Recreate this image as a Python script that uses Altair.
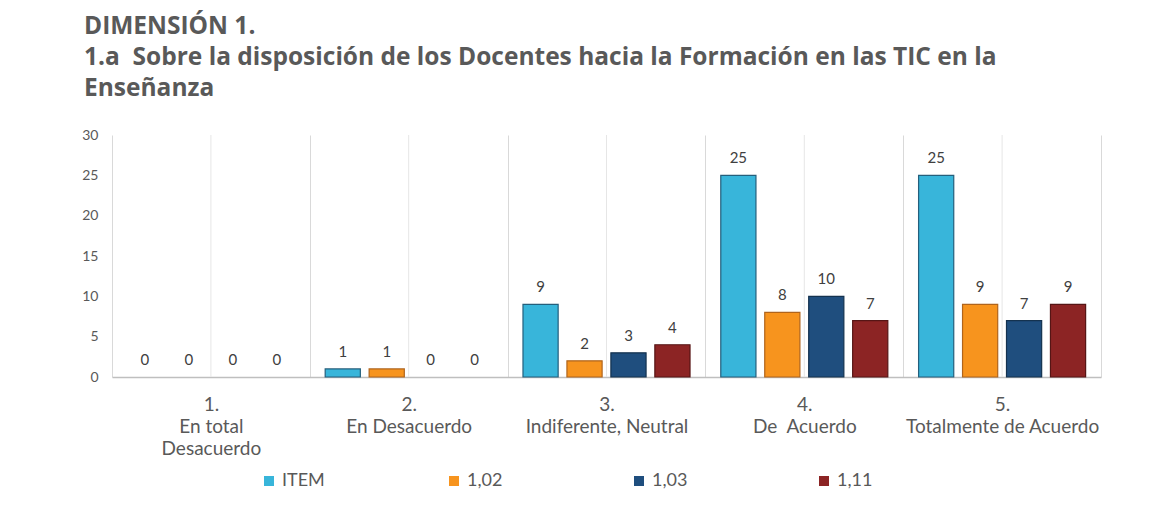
import altair as alt
import pandas as pd

categorias = ["1.|En total|Desacuerdo", "2.|En Desacuerdo", "3.|Indiferente, Neutral",
              "4.|De\u00a0 Acuerdo", "5.|Totalmente de Acuerdo"]
series = ["ITEM", "1,02", "1,03", "1,11"]
item = [0, 1, 9, 25, 25]
v102 = [0, 1, 2, 8, 9]
v103 = [0, 0, 3, 10, 7]
v111 = [0, 0, 4, 7, 9]
colores = ["#38B5DA", "#F7941E", "#1F4E7E", "#8C2424"]
bordes = ["#245F7C", "#B0641C", "#14324F", "#561515"]

valores = {"ITEM": item, "1,02": v102, "1,03": v103, "1,11": v111}
rows = []
for s in series:
    for c, v in zip(categorias, valores[s]):
        rows.append({"categoria": c, "serie": s, "valor": v})
df = pd.DataFrame(rows)
cats_df = pd.DataFrame({"categoria": categorias})

FONT = "Lato"
GRAY = "#595959"

x_enc = alt.X(
    "categoria:N", sort=categorias,
    scale=alt.Scale(paddingInner=0, paddingOuter=0),
    axis=alt.Axis(title=None, labelExpr="split(datum.label, '|')", labelAngle=0,
                  labelAlign="center", labelLimit=400,
                  grid=True, tickBand="extent", gridColor="#D9D9D9", ticks=False,
                  domainColor="#BFBFBF", domainWidth=1.5, labelFontSize=19,
                  labelFont=FONT, labelColor=GRAY, labelLineHeight=22, labelPadding=27),
)
xoff = alt.XOffset("serie:N", sort=series,
                   scale=alt.Scale(paddingInner=0.2, paddingOuter=0.35))
y_enc = alt.Y("valor:Q", scale=alt.Scale(domain=[0, 30]),
              axis=alt.Axis(title=None, values=[0, 5, 10, 15, 20, 25, 30], domain=False,
                            ticks=False, gridColor="#D9D9D9", labelFontSize=14,
                            labelFont=FONT, labelColor=GRAY, labelPadding=14))

centros = alt.Chart(cats_df).mark_rule(color="#E6E6E6", strokeWidth=1).encode(
    x=alt.X("categoria:N", sort=categorias),
    y=alt.datum(0), y2=alt.datum(30),
)

barras = alt.Chart(df).transform_filter("datum.valor > 0").mark_bar(strokeWidth=1.2).encode(
    x=x_enc, xOffset=xoff, y=y_enc,
    color=alt.Color("serie:N", sort=series,
                    scale=alt.Scale(domain=series, range=colores),
                    legend=alt.Legend(title=None, orient="none", direction="horizontal",
                                      legendX=148, legendY=337, symbolType="square",
                                      symbolSize=100, symbolStrokeWidth=0,
                                      labelFontSize=18, labelFont=FONT, labelColor=GRAY,
                                      columnPadding=120, gridAlign="all", labelOffset=4)),
    stroke=alt.Stroke("serie:N", sort=series,
                      scale=alt.Scale(domain=series, range=bordes), legend=None),
)

etiquetas = alt.Chart(df).mark_text(baseline="middle", dy=-17, fontSize=15, font=FONT,
                                    color="#404040").encode(
    x=alt.X("categoria:N", sort=categorias), xOffset=xoff, y="valor:Q",
    text="valor:Q",
)

chart = alt.layer(centros, barras, etiquetas).properties(
    width=989, height=242,
    title=alt.TitleParams(
        text=["DIMENSIÓN 1.",
              "1.a\u00a0 Sobre la disposición de los Docentes hacia la Formación en las TIC en la",
              "Enseñanza"],
        anchor="start", frame="group", dx=-28, offset=27, fontSize=24.5, font="Open Sans",
        fontWeight="bold", color=GRAY, lineHeight=31),
    autosize=alt.AutoSizeParams(type="none"),
    padding={"left": 104, "top": 127, "right": 48, "bottom": 118},
).configure_view(stroke=None)

chart.save("out.html", embed_options={"renderer": "svg", "actions": False})
